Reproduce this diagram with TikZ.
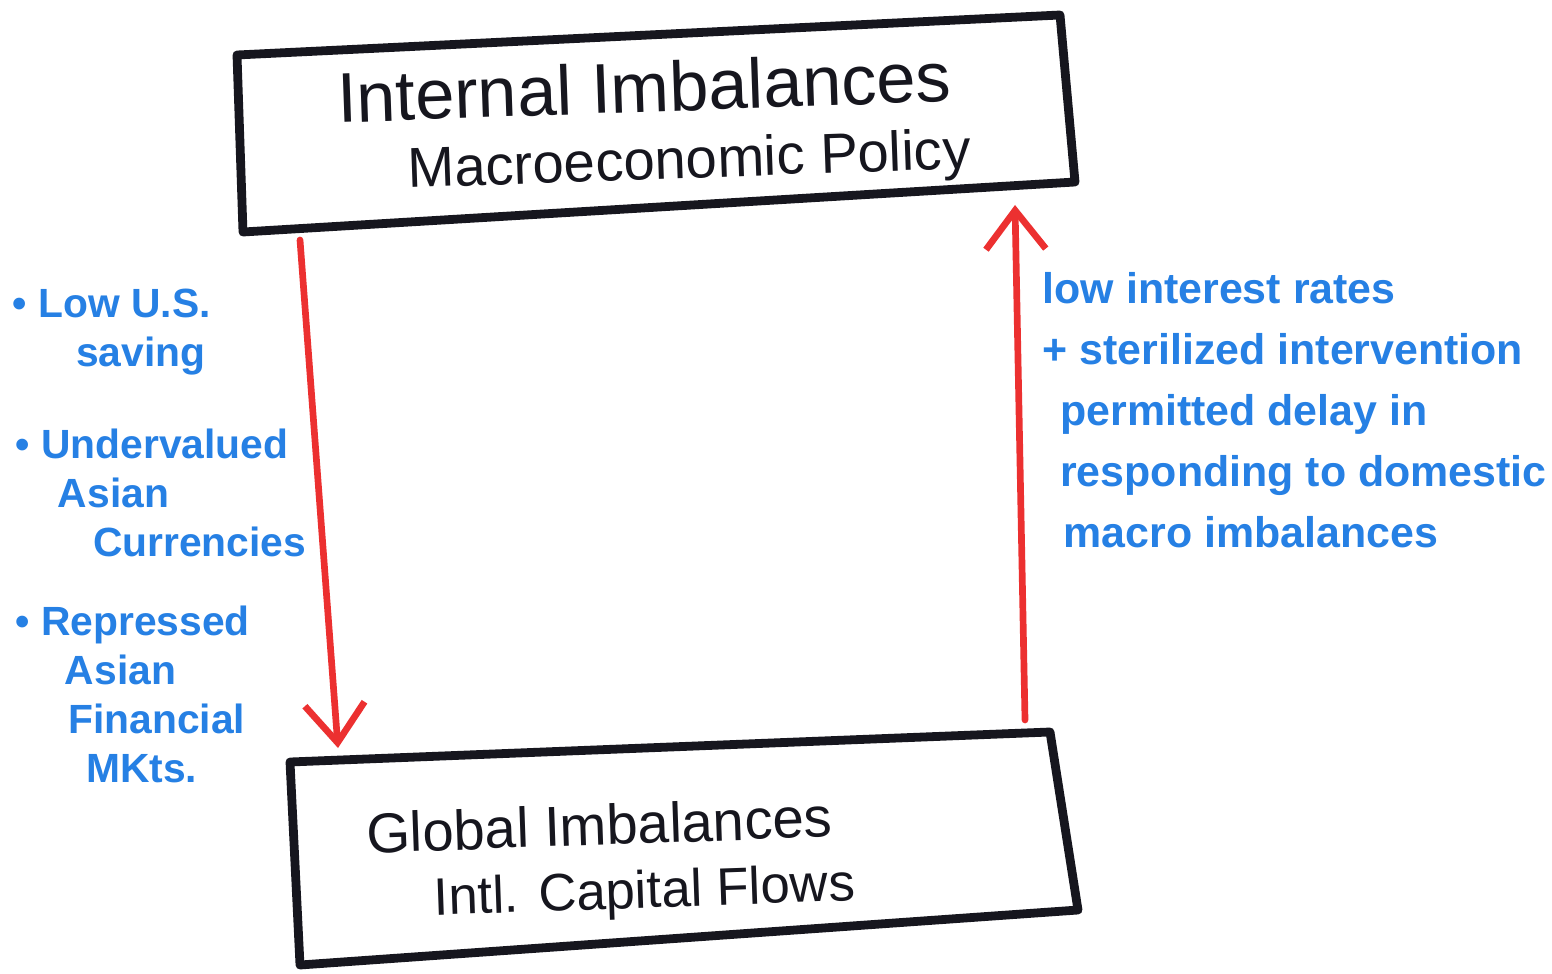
\documentclass[tikz,border=0pt]{standalone}
\usepackage{fontspec}
\setmainfont{Liberation Sans}
\usetikzlibrary{arrows.meta}
\definecolor{inkblack}{RGB}{22,22,30}
\definecolor{inkred}{RGB}{236,48,48}
\definecolor{inkblue}{RGB}{38,128,228}
\tikzset{
  boxline/.style={line width=2.5pt, inkblack, line join=round, line cap=round},
  redarrow/.style={line width=1.9pt, inkred, line cap=round,
    -{Straight Barb[length=11pt,width=17pt,line width=1.9pt]}},
  note/.style={inkblue, font=\fontsize{11.6}{14}\selectfont\bfseries, align=left, inner sep=0pt, anchor=north west},
  bignote/.style={inkblue, font=\fontsize{12.2}{17.3}\selectfont\bfseries, align=left, inner sep=0pt, anchor=north west},
  title/.style={inkblack, inner sep=0pt, anchor=base, rotate=2}
}
\begin{document}
\begin{tikzpicture}[x=0.01cm,y=-0.01cm]
  \useasboundingbox[fill=white] (0,0) rectangle (1552,973);
  % upper box: internal side
  \coordinate (int nw) at (237,55);
  \coordinate (int ne) at (1060,15);
  \coordinate (int se) at (1075,182);
  \coordinate (int sw) at (243,232);
  \draw[boxline] (int nw) -- (int ne) -- (int se) -- (int sw) -- cycle;
  \node[title, font=\fontsize{20}{24}\selectfont] (internal) at (645,112) {Internal Imbalances};
  \node[title, font=\fontsize{16}{20}\selectfont] (policy) at (690,178) {Macroeconomic Policy};
  % lower box: global side
  \coordinate (glob nw) at (290,762);
  \coordinate (glob ne) at (1050,732);
  \coordinate (glob se) at (1078,910);
  \coordinate (glob sw) at (300,965);
  \draw[boxline] (glob nw) -- (glob ne) -- (glob se) -- (glob sw) -- cycle;
  \node[title, font=\fontsize{16}{20}\selectfont] (global) at (600,845) {Global Imbalances};
  \node[title, font=\fontsize{15}{18}\selectfont] (flows) at (645,908) {Intl. Capital Flows};
  % the two red arrows
  \coordinate (down start) at (300,240);
  \coordinate (down end) at (338,748);
  \coordinate (up start) at (1025,720);
  \coordinate (up end) at (1015,205);
  \draw[redarrow] (down start) -- (down end);
  \draw[redarrow] (up start) -- (up end);
  % blue notes
  \node[note] (saving) at (12,288)
    {• Low U.S.\\\hspace*{18pt}saving};
  \node[note] (currency) at (15,428)
    {• Undervalued\\\hspace*{12pt}Asian\\\hspace*{22pt}Currencies};
  \node[note] (markets) at (15,605)
    {• Repressed\\\hspace*{14pt}Asian\\\hspace*{15pt}Financial\\\hspace*{20pt}MKts.};
  \node[bignote] (rates) at (1042,272)
    {low interest rates\\+ sterilized intervention\\\hspace*{5pt}permitted delay in\\\hspace*{5pt}responding to domestic\\\hspace*{6pt}macro imbalances};
\end{tikzpicture}
\end{document}
